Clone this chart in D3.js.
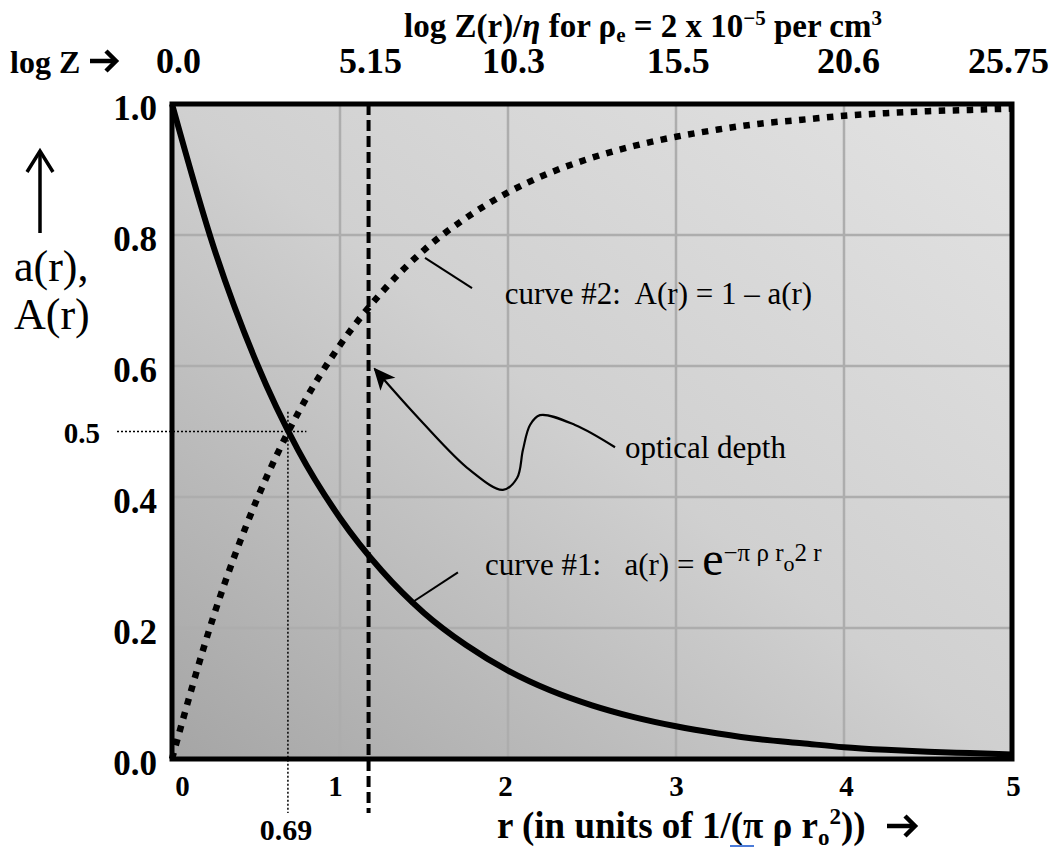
<!DOCTYPE html>
<html>
<head>
<meta charset="utf-8">
<script src="https://cdn.jsdelivr.net/npm/d3@7"></script>
<style>
  body { margin: 0; background: #fff; }
  text { font-family: "Liberation Serif", "Times New Roman", serif; fill: #000; }
  .b { font-weight: bold; }
</style>
</head>
<body>
<svg id="chart" width="1056" height="850"></svg>
<script>
// values
const rValues = [0, 0.25, 0.5, 0.75, 1.0, 1.25, 1.5, 1.75, 2.0, 2.25, 2.5, 2.75, 3.0, 3.25, 3.5, 3.75, 4.0, 4.25, 4.5, 4.75, 5.0];
const curve1 = [1.0, 0.78, 0.607, 0.472, 0.368, 0.287, 0.223, 0.174, 0.135, 0.105, 0.082, 0.064, 0.050, 0.039, 0.030, 0.024, 0.018, 0.014, 0.011, 0.009, 0.007];
const curve2 = [0.0, 0.22, 0.393, 0.528, 0.632, 0.713, 0.777, 0.826, 0.865, 0.895, 0.918, 0.936, 0.950, 0.961, 0.970, 0.976, 0.982, 0.986, 0.989, 0.991, 0.993];

const rTicks = [0, 1, 2, 3, 4, 5];
const aTicks = [0, 0.2, 0.4, 0.6, 0.8, 1.0];
const logZTicks = [0, 5.15, 10.3, 15.5, 20.6, 25.75];
const logZLabels = ['0.0', '5.15', '10.3', '15.5', '20.6', '25.75'];

const depthR = 1.17;          // optical depth marker
const halfR = 0.69, halfA = 0.5;

// annotation path for "optical depth" (r, a units)
const depthArrow = [[2.637, 0.476], [2.399, 0.510], [2.19, 0.525], [2.131, 0.510], [2.089, 0.472],
  [2.054, 0.429], [1.97, 0.411], [1.774, 0.441], [1.476, 0.518], [1.208, 0.595]];

const svg = d3.select('#chart');
const x = d3.scaleLinear().domain([0, 5]).range([172, 1012]);
const y = d3.scaleLinear().domain([0, 1]).range([759, 104]);
const z = d3.scaleLinear().domain([0, 25.75]).range(x.range());

const defs = svg.append('defs');
const grad = defs.append('linearGradient').attr('id', 'bg')
  .attr('x1', 0).attr('y1', 1).attr('x2', 1).attr('y2', 0);
grad.append('stop').attr('offset', 0).attr('stop-color', '#a5a5a5');
grad.append('stop').attr('offset', 0.5).attr('stop-color', '#d0d0d0');
grad.append('stop').attr('offset', 1).attr('stop-color', '#e3e3e3');
defs.append('marker').attr('id', 'head')
  .attr('viewBox', '0 0 10 10').attr('refX', 9).attr('refY', 5)
  .attr('markerWidth', 10).attr('markerHeight', 10).attr('orient', 'auto')
  .append('path').attr('d', 'M0,0.5L10,5L0,9.5L2.5,5z').attr('fill', '#000');

// plot background
svg.append('rect')
  .attr('x', x(0)).attr('y', y(1))
  .attr('width', x(5) - x(0)).attr('height', y(0) - y(1))
  .attr('fill', 'url(#bg)');

// grid
const grid = svg.append('g').attr('stroke', '#adadad').attr('stroke-width', 2.5);
grid.selectAll('.gx').data(rTicks.slice(1, -1)).join('line')
  .attr('x1', d => x(d)).attr('x2', d => x(d)).attr('y1', y(0)).attr('y2', y(1));
grid.selectAll('.gy').data(aTicks.slice(1, -1)).join('line')
  .attr('y1', d => y(d)).attr('y2', d => y(d)).attr('x1', x(0)).attr('x2', x(5));

// dotted guides at a = 0.5
svg.append('line')
  .attr('x1', 117).attr('x2', x(0.8)).attr('y1', y(halfA)).attr('y2', y(halfA))
  .attr('stroke', '#000').attr('stroke-width', 1.5).attr('stroke-dasharray', '2,2');
svg.append('line')
  .attr('x1', x(halfR)).attr('x2', x(halfR)).attr('y1', y(0.53)).attr('y2', 813)
  .attr('stroke', '#000').attr('stroke-width', 1.5).attr('stroke-dasharray', '2,2');

// optical depth line
svg.append('line')
  .attr('x1', x(depthR)).attr('x2', x(depthR)).attr('y1', y(1)).attr('y2', 813)
  .attr('stroke', '#000').attr('stroke-width', 4).attr('stroke-dasharray', '11,5');

const line = d3.line()
  .x(function (d) { return x(d[0]); })
  .y(function (d) { return y(d[1]); })
  .curve(d3.curveMonotoneX);

svg.append('path')
  .attr('d', line(rValues.map((r, i) => [r, curve2[i]])))
  .attr('fill', 'none').attr('stroke', '#000').attr('stroke-width', 6.5)
  .attr('stroke-dasharray', '6.5,7.5');

svg.append('path')
  .attr('d', line(rValues.map((r, i) => [r, curve1[i]])))
  .attr('fill', 'none').attr('stroke', '#000').attr('stroke-width', 6);

// frame
svg.append('rect')
  .attr('x', x(0)).attr('y', y(1))
  .attr('width', x(5) - x(0)).attr('height', y(0) - y(1))
  .attr('fill', 'none').attr('stroke', '#000').attr('stroke-width', 5);

// axes
function styleAxis(g, size) {
  g.select('.domain').remove();
  g.selectAll('.tick line').remove();
  g.selectAll('text').attr('class', 'b').attr('font-size', size);
}

const yAxis = svg.append('g').attr('transform', 'translate(157,0)')
  .call(d3.axisLeft(y).tickValues(aTicks).tickFormat(d3.format('.1f')).tickSize(0).tickPadding(0));
styleAxis(yAxis, 35);
yAxis.selectAll('text').attr('dy', '0.45em');

const xAxis = svg.append('g').attr('transform', 'translate(0,796)')
  .call(d3.axisBottom(x).tickValues(rTicks).tickFormat(d3.format('d')).tickSize(0).tickPadding(0));
styleAxis(xAxis, 29);
const xNudge = [10, -5, -3, 0, 2, 1];
xAxis.selectAll('text').attr('y', 0).attr('dy', 0).attr('dx', (d, i) => xNudge[i]);

const zAxis = svg.append('g').attr('transform', 'translate(0,73)')
  .call(d3.axisTop(z).tickValues(logZTicks).tickFormat((d, i) => logZLabels[i]).tickSize(0).tickPadding(0));
styleAxis(zAxis, 36);
const zNudge = [6, 30, 5, 0, 4, -4];
zAxis.selectAll('text').attr('y', 0).attr('dy', 0).attr('dx', (d, i) => zNudge[i]);

// heavy arrow glyph
function heavyArrow(x0, x1, yc, h) {
  const g = svg.append('g').attr('stroke', '#000').attr('fill', 'none')
    .attr('stroke-width', 4.5).attr('stroke-linejoin', 'miter');
  g.append('line').attr('x1', x0).attr('x2', x1 - 3).attr('y1', yc).attr('y2', yc);
  g.append('path').attr('d', `M${x1 - h},${yc - h}L${x1},${yc}L${x1 - h},${yc + h}`);
}

svg.append('text').attr('class', 'b').attr('x', 10).attr('y', 73).attr('font-size', 32)
  .text('log Z');
heavyArrow(90, 116, 61, 10);

// top title
const title = svg.append('text').attr('class', 'b').attr('x', 643).attr('y', 37)
  .attr('text-anchor', 'middle').attr('font-size', 33);
title.append('tspan').text('log Z(r)/');
title.append('tspan').attr('font-style', 'italic').text('\u03b7');
title.append('tspan').text(' for \u03c1');
title.append('tspan').attr('font-size', 21).attr('dy', 5).text('e');
title.append('tspan').attr('dy', -5).text(' = 2 x 10');
title.append('tspan').attr('font-size', 21).attr('dy', -12).text('\u22125');
title.append('tspan').attr('dy', 12).text(' per cm');
title.append('tspan').attr('font-size', 21).attr('dy', -12).text('3');

// x axis title
const xt = svg.append('text').attr('class', 'b').attr('x', 497).attr('y', 838).attr('font-size', 37);
xt.append('tspan').text('r (in units of 1/(\u03c0 \u03c1 r');
xt.append('tspan').attr('font-size', 23).attr('dy', 7).text('o');
xt.append('tspan').attr('font-size', 23).attr('dy', -21).text('2');
xt.append('tspan').attr('dy', 14).text('))');
heavyArrow(887, 915, 826, 10);
svg.append('line').attr('x1', 730).attr('x2', 754).attr('y1', 846).attr('y2', 846)
  .attr('stroke', '#4b7bd8').attr('stroke-width', 2);

// small labels
svg.append('text').attr('class', 'b').attr('x', 286).attr('y', 840).attr('text-anchor', 'middle')
  .attr('font-size', 30).text('0.69');
svg.append('text').attr('class', 'b').attr('x', 100).attr('y', 443).attr('text-anchor', 'end')
  .attr('font-size', 29).text('0.5');

// y axis title
svg.append('line').attr('x1', 40).attr('x2', 40).attr('y1', 233).attr('y2', 152)
  .attr('stroke', '#000').attr('stroke-width', 3.5);
svg.append('path').attr('d', 'M27,172L40,151L53,172').attr('fill', 'none')
  .attr('stroke', '#000').attr('stroke-width', 3.5);
svg.append('text').attr('x', 14).attr('y', 281).attr('font-size', 44).text('a(r),');
svg.append('text').attr('x', 14).attr('y', 329).attr('font-size', 44).text('A(r)');

// curve labels and leaders
const leaders = [[[1.506, 0.765], [1.786, 0.719]], [[1.417, 0.237], [1.702, 0.285]]];
svg.selectAll('.leader').data(leaders).join('line')
  .attr('x1', d => x(d[0][0])).attr('y1', d => y(d[0][1]))
  .attr('x2', d => x(d[1][0])).attr('y2', d => y(d[1][1]))
  .attr('stroke', '#000').attr('stroke-width', 2);

svg.append('text').attr('x', x(1.98)).attr('y', y(0.694)).attr('font-size', 31)
  .style('white-space', 'pre').text('curve #2:  A(r) = 1 \u2013 a(r)');

const c1 = svg.append('text').attr('x', x(1.863)).attr('y', y(0.281)).attr('font-size', 31)
  .style('white-space', 'pre');
c1.append('tspan').text('curve #1:   a(r) = ');
c1.append('tspan').attr('font-size', 48).text('e');
c1.append('tspan').attr('font-size', 25).attr('dy', -14).text('\u2212\u03c0 \u03c1 r');
c1.append('tspan').attr('font-size', 22).attr('dy', 10).text('o');
c1.append('tspan').attr('font-size', 25).attr('dy', -10).text('2 r');

// optical depth annotation
svg.append('path')
  .attr('d', d3.line().x(d => x(d[0])).y(d => y(d[1])).curve(d3.curveCatmullRom.alpha(0.5))(depthArrow))
  .attr('fill', 'none').attr('stroke', '#000').attr('stroke-width', 2.2)
  .attr('marker-end', 'url(#head)');
svg.append('text').attr('x', x(2.696)).attr('y', y(0.4595)).attr('font-size', 31).text('optical depth');
</script>
</body>
</html>
